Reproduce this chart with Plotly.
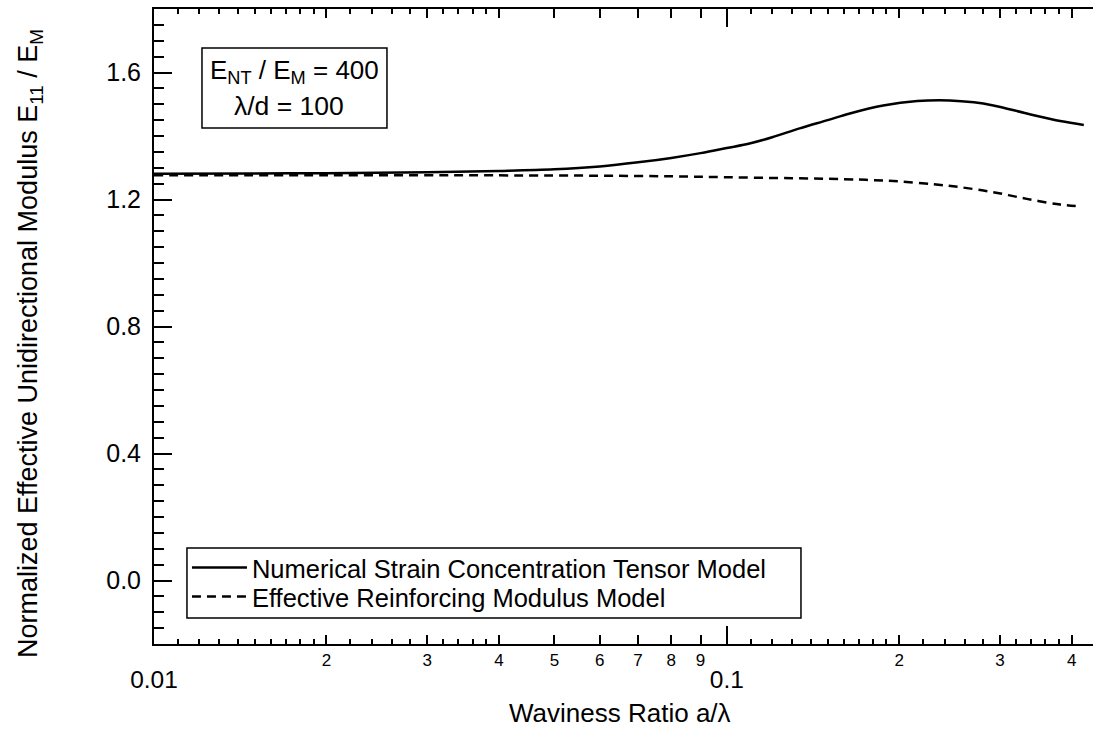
import plotly.graph_objects as go

# ---- data ----
ratio_solid = [0.010, 0.015, 0.020, 0.030, 0.040, 0.050, 0.060, 0.070, 0.080, 0.090,
               0.100, 0.110, 0.120, 0.134, 0.150, 0.164, 0.1875, 0.215, 0.245, 0.270,
               0.292, 0.334, 0.382, 0.420]
modulus_solid = [1.281, 1.282, 1.283, 1.286, 1.290, 1.295, 1.304, 1.317, 1.331, 1.346,
                 1.362, 1.377, 1.396, 1.424, 1.450, 1.471, 1.496, 1.510, 1.512, 1.506,
                 1.496, 1.471, 1.447, 1.435]

ratio_dashed = [0.010, 0.020, 0.040, 0.060, 0.080, 0.100, 0.130, 0.160, 0.180, 0.200,
                0.230, 0.255, 0.292, 0.334, 0.382, 0.415]
modulus_dashed = [1.276, 1.276, 1.276, 1.275, 1.273, 1.270, 1.267, 1.264, 1.261, 1.257,
                  1.248, 1.239, 1.223, 1.202, 1.184, 1.178]

decade_ticks = [0.01, 0.1]
decade_labels = ["0.01", "0.1"]
digit_ticks = [0.02, 0.03, 0.04, 0.05, 0.06, 0.07, 0.08, 0.09, 0.2, 0.3, 0.4]
digit_labels = ["2", "3", "4", "5", "6", "7", "8", "9", "2", "3", "4"]
minor_ticks = [0.011, 0.012, 0.013, 0.014, 0.015, 0.016, 0.017, 0.018, 0.019,
               0.022, 0.024, 0.026, 0.028, 0.032, 0.034, 0.036, 0.038,
               0.11, 0.12, 0.13, 0.14, 0.15, 0.16, 0.17, 0.18, 0.19,
               0.22, 0.24, 0.26, 0.28, 0.32, 0.34, 0.36, 0.38]

name_solid = "Numerical Strain Concentration Tensor Model"
name_dashed = "Effective Reinforcing Modulus Model"

FONT = "Liberation Sans, Arial, sans-serif"
X_RANGE = [-2, -0.3607]
Y_RANGE = [-0.2, 1.8]

fig = go.Figure()
fig.add_trace(go.Scatter(x=ratio_solid, y=modulus_solid, mode="lines", name=name_solid,
                         legend="legend",
                         line=dict(color="black", width=2.5, shape="spline")))
fig.add_trace(go.Scatter(x=ratio_dashed, y=modulus_dashed, mode="lines", name=name_dashed,
                         xaxis="x2", legend="legend2",
                         line=dict(color="black", width=2.5, dash="9px,6px", shape="spline")))

legend_common = dict(xanchor="left", yanchor="middle", borderwidth=0,
                     bgcolor="rgba(0,0,0,0)",
                     font=dict(family=FONT, size=25.5, color="black"), itemwidth=55)

fig.update_layout(
    width=1093, height=742,
    margin=dict(l=154, r=0, t=9, b=98),
    paper_bgcolor="white", plot_bgcolor="white",
    font=dict(family=FONT, color="black", size=26),
    showlegend=True,
    legend=dict(x=0.0351, y=0.1197, **legend_common),
    legend2=dict(x=0.0351, y=0.0740, **legend_common),
    xaxis=dict(type="log", range=X_RANGE, showline=True, linewidth=2, linecolor="black",
               mirror="allticks", ticks="inside", ticklen=9, tickwidth=1.5, tickcolor="black",
               tickmode="array", tickvals=digit_ticks, ticktext=digit_labels,
               tickfont=dict(size=17), showgrid=False, zeroline=False,
               minor=dict(tickmode="array", tickvals=minor_ticks, ticks="inside", ticklen=5,
                          tickwidth=1.5, tickcolor="black", showgrid=False)),
    xaxis2=dict(type="log", range=X_RANGE, overlaying="x", anchor="y", side="bottom",
                matches="x",
                showline=False, mirror="ticks", ticks="inside", ticklen=18, tickwidth=1.5,
                tickcolor="black", tickmode="array", tickvals=decade_ticks,
                ticktext=decade_labels, tickfont=dict(size=24.5), ticklabelstandoff=18,
                showgrid=False, zeroline=False),
    yaxis=dict(range=Y_RANGE, showline=True, linewidth=2, linecolor="black", mirror=False,
               ticks="inside", ticklen=18, tickwidth=1.5, tickcolor="black",
               tick0=0, dtick=0.4, tickformat=".1f", tickfont=dict(size=25),
               ticklabelstandoff=6,
               showgrid=False, zeroline=False,
               minor=dict(dtick=0.05, tick0=0, ticks="inside", ticklen=10, tickwidth=1.5,
                          tickcolor="black", showgrid=False)),
    yaxis2=dict(range=Y_RANGE, overlaying="y", anchor="x", side="right", showline=False,
                ticks="inside", ticklen=13, tickwidth=1.5, tickcolor="black",
                tick0=0, dtick=0.4, showticklabels=False, showgrid=False, zeroline=False,
                minor=dict(dtick=0.05, tick0=0, ticks="inside", ticklen=5, tickwidth=1.5,
                           tickcolor="black", showgrid=False)),
)

# legend frame
fig.add_shape(type="rect", xref="paper", yref="paper",
              x0=0.0351, x1=0.689, y0=0.0409, y1=0.1512,
              line=dict(color="black", width=1.5), fillcolor="rgba(0,0,0,0)")

# info box
fig.add_shape(type="rect", xref="paper", yref="paper",
              x0=0.0511, x1=0.2481, y0=0.8126, y1=0.9386,
              line=dict(color="black", width=1.5), fillcolor="rgba(0,0,0,0)")
fig.add_annotation(xref="paper", yref="paper", x=0.1496, y=0.9008, showarrow=False,
                   text="E<sub>NT</sub> / E<sub>M</sub> = 400", font=dict(size=26),
                   xanchor="center", yanchor="middle")
fig.add_annotation(xref="paper", yref="paper", x=0.1437, y=0.8472, showarrow=False,
                   text="λ/d = 100", font=dict(size=26.5), xanchor="center", yanchor="middle")

# axis titles
fig.add_annotation(xref="paper", yref="paper", x=0.4963, y=-0.1087, showarrow=False,
                   text="Waviness Ratio a/λ", font=dict(size=26),
                   xanchor="center", yanchor="middle")
fig.add_annotation(xref="paper", yref="paper", x=-0.132, y=0.4724, showarrow=False,
                   text="Normalized Effective Unidirectional Modulus E<sub>11</sub> / E<sub>M</sub>",
                   font=dict(size=27), textangle=-90, xanchor="center", yanchor="middle")

fig.write_html("out.html")
